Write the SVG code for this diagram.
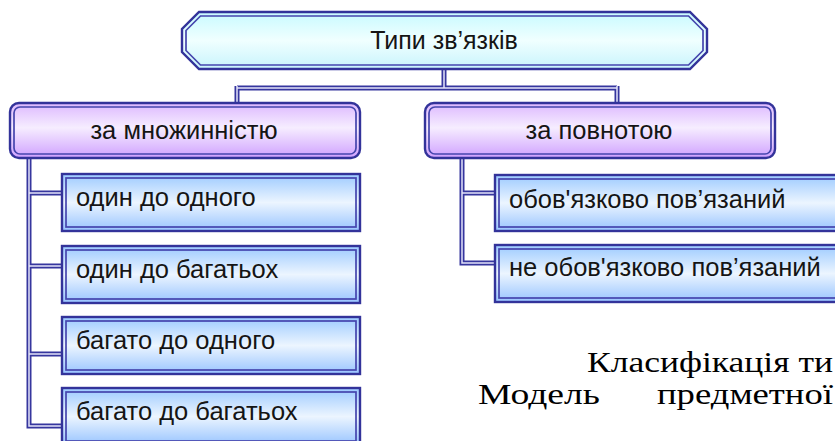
<svg xmlns="http://www.w3.org/2000/svg" width="835" height="441" viewBox="0 0 835 441">
<defs>
<linearGradient id="gCyan" x1="0" y1="0" x2="0" y2="1">
<stop offset="0" stop-color="#C8FAFF"/><stop offset="0.5" stop-color="#F0FFFF"/><stop offset="1" stop-color="#C8F4FC"/>
</linearGradient>
<linearGradient id="gPurple" x1="0" y1="0" x2="0" y2="1">
<stop offset="0" stop-color="#DDB8FF"/><stop offset="0.45" stop-color="#F6EDFF"/><stop offset="1" stop-color="#CFA0FF"/>
</linearGradient>
<linearGradient id="gBlue" x1="0" y1="0" x2="0" y2="1">
<stop offset="0" stop-color="#9CCAFF"/><stop offset="0.5" stop-color="#ECF5FF"/><stop offset="1" stop-color="#98C4FF"/>
</linearGradient>
</defs>
<style>
.outer{stroke:#33339A;stroke-width:2.4}
.inner{fill:none;stroke:#4545AE;stroke-width:1.7}
.cyan{fill:url(#gCyan)}
.purple{fill:url(#gPurple)}
.blue{fill:url(#gBlue)}
.t{font-family:"Liberation Sans",Arial,sans-serif;font-size:25.5px;fill:#151515}
.c{text-anchor:middle}
.lo{fill:none;stroke:#36369E;stroke-width:5}
.li{fill:none;stroke:#E4E4FA;stroke-width:1.5}
.body{font-family:"Liberation Serif","Times New Roman",serif;font-size:30px;fill:#000}
</style>
<g id="connectors">
<path class="lo" d="M444 69V88M237 88H617M237 86V103M617 86V103M29 158V426H62M29 193H62M29 266H62M29 354H62M462 158V263H495M462 193H495"/>
<path class="li" d="M444 69V88M237 88H617M237 86V103M617 86V103M29 158V426H62M29 193H62M29 266H62M29 354H62M462 158V263H495M462 193H495"/>
</g>
<g id="root">
<polygon class="outer cyan" points="199,12 690,12 707,29 707,52 690,69 199,69 182,52 182,29"/>
<polygon class="inner" points="200.5,16 688.5,16 703,30.5 703,50.5 688.5,65 200.5,65 186,50.5 186,30.5"/>
<text class="t c" x="444" y="49" style="font-size:25px">Типи зв’язків</text>
</g>
<g id="by-multiplicity">
<rect class="outer purple" x="10" y="103" width="350" height="55" rx="9"/>
<rect class="inner" x="14" y="107" width="342" height="47" rx="6"/>
<text class="t c" x="184" y="139">за множинністю</text>
</g>
<g id="by-completeness">
<rect class="outer purple" x="425" y="103" width="350" height="55" rx="9"/>
<rect class="inner" x="429" y="107" width="342" height="47" rx="6"/>
<text class="t c" x="599" y="139">за повнотою</text>
</g>
<g id="one-to-one">
<rect class="outer blue" x="62" y="174" width="298" height="57"/>
<rect class="inner" x="66" y="178" width="290" height="49"/>
<text class="t" x="76" y="206">один до одного</text>
</g>
<g id="one-to-many">
<rect class="outer blue" x="62" y="246" width="298" height="57"/>
<rect class="inner" x="66" y="250" width="290" height="49"/>
<text class="t" x="76" y="278">один до багатьох</text>
</g>
<g id="many-to-one">
<rect class="outer blue" x="62" y="317" width="298" height="57"/>
<rect class="inner" x="66" y="321" width="290" height="49"/>
<text class="t" x="76" y="349">багато до одного</text>
</g>
<g id="many-to-many">
<rect class="outer blue" x="62" y="388" width="298" height="57"/>
<rect class="inner" x="66" y="392" width="290" height="49"/>
<text class="t" x="76" y="420">багато до багатьох</text>
</g>
<g id="mandatory">
<rect class="outer blue" x="495" y="175" width="360" height="56"/>
<rect class="inner" x="499" y="179" width="352" height="48"/>
<text class="t" x="509" y="208">обов'язково пов’язаний</text>
</g>
<g id="optional">
<rect class="outer blue" x="495" y="245" width="360" height="57"/>
<rect class="inner" x="499" y="249" width="352" height="49"/>
<text class="t" x="509" y="276">не обов'язково пов’язаний</text>
</g>
<g id="caption">
<text class="body" x="587" y="372" textLength="246" lengthAdjust="spacingAndGlyphs">Класифікація ти</text>
<text class="body" x="478" y="404" textLength="122" lengthAdjust="spacingAndGlyphs">Модель</text>
<text class="body" x="657" y="404" textLength="176" lengthAdjust="spacingAndGlyphs">предметної</text>
</g>
</svg>
